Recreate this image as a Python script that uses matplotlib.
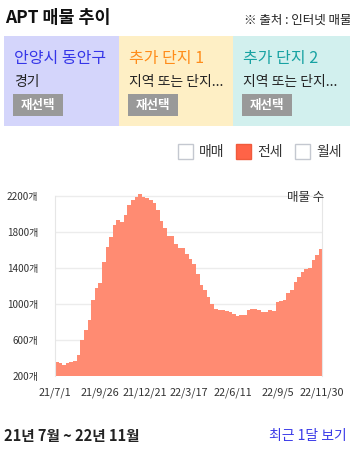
import pandas as pd
import matplotlib
matplotlib.use('Agg')
import matplotlib.pyplot as plt
from matplotlib.patches import Rectangle

# 한글 폰트 설정
plt.rcParams['font.family'] = ['Noto Sans CJK KR', 'DejaVu Sans']
plt.rcParams['axes.unicode_minus'] = False

# 주간 매물 수 (21/7/1 ~ 22/11/24 매주, 마지막은 22/11/30)
listing_counts = [
    353, 340, 323, 340, 355, 370, 430, 600, 715, 820,
    1040, 1180, 1235, 1470, 1630, 1740, 1880, 1930, 1910, 1985,
    2095, 2160, 2185, 2220, 2190, 2177, 2160, 2125, 2040, 1920,
    1840, 1760, 1755, 1670, 1625, 1617, 1560, 1497, 1440, 1330,
    1210, 1160, 1080, 1000, 950, 936, 936, 918, 910, 885,
    870, 877, 880, 936, 945, 948, 929, 910, 914, 936,
    925, 1022, 1037, 1049, 1123, 1161, 1250, 1303, 1360, 1385,
    1400, 1490, 1546, 1610, 1676,
]
dates = list(pd.date_range('2021-07-01', periods=len(listing_counts) - 1, freq='7D')) + [pd.Timestamp('2022-11-30')]

tick_dates = pd.to_datetime(['2021-07-01', '2021-09-26', '2021-12-21', '2022-03-17',
                             '2022-06-11', '2022-09-05', '2022-11-30'])
tick_labels = ['21/7/1', '21/9/26', '21/12/21', '22/3/17', '22/6/11', '22/9/5', '22/11/30']
y_ticks = [200, 600, 1000, 1400, 1800, 2200]

panel_titles = ['안양시 동안구', '추가 단지 1', '추가 단지 2']
panel_subs = ['경기', '지역 또는 단지...', '지역 또는 단지...']
legend_names = ['매매', '전세', '월세']

W, H = 350, 450
fig = plt.figure(figsize=(3.5, 4.5), dpi=100)


def fx(x):
    return x / W


def fy(y):
    return 1 - y / H


# 상단 제목
fig.text(fx(5), fy(18), 'APT 매물 추이', fontsize=12.5, fontweight='bold', va='center', color='#111111')
fig.text(fx(244), fy(20), '※ 출처 : 인터넷 매물', fontsize=9, va='center', color='#222222')

# 선택 패널
panel_x = [4, 119, 233]
panel_w = [115, 114, 117]
panel_bg = ['#d4d5fb', '#feefc5', '#d2f0ee']
title_colors = ['#3535e8', '#ff8c1a', '#17a2a2']
for i in range(3):
    fig.patches.append(Rectangle((fx(panel_x[i]), fy(126)), panel_w[i] / W, 90 / H,
                                 transform=fig.transFigure, facecolor=panel_bg[i],
                                 edgecolor='none', zorder=0))
    fig.text(fx(panel_x[i] + 10), fy(58), panel_titles[i], fontsize=11.5,
             color=title_colors[i], va='center')
    fig.text(fx(panel_x[i] + 10), fy(82), panel_subs[i], fontsize=10, color='#222222', va='center')
    fig.patches.append(Rectangle((fx(panel_x[i] + 9), fy(116)), 50 / W, 22 / H,
                                 transform=fig.transFigure, facecolor='#999999',
                                 edgecolor='none', zorder=1))
    fig.text(fx(panel_x[i] + 34), fy(105), '재선택', fontsize=9, fontweight='bold',
             color='white', ha='center', va='center', zorder=2)

# 범례 (체크박스)
box_x = [178, 236, 295]
for i in range(3):
    checked = legend_names[i] == '전세'
    fig.patches.append(Rectangle((fx(box_x[i]), fy(159)), 15 / W, 15 / H,
                                 transform=fig.transFigure,
                                 facecolor='#ff6347' if checked else 'white',
                                 edgecolor='#f05a3c' if checked else '#c4c8d0', linewidth=1))
    fig.text(fx(box_x[i] + 21), fy(152), legend_names[i], fontsize=10, color='#333333', va='center')

# 차트
ax = fig.add_axes([fx(55), fy(376), (322 - 55) / W, (376 - 190.6) / H])
ax.fill_between(dates, listing_counts, 200, step='post', color='#ff8b72', linewidth=0)
ax.set_xlim(dates[0], dates[-1])
ax.set_ylim(200, 2260)
ax.set_yticks(y_ticks)
ax.set_yticklabels([f'{v}개' for v in y_ticks], fontsize=7.2, color='#333333')
ax.set_xticks(tick_dates)
ax.set_xticklabels(tick_labels, fontsize=7.8, color='#333333')
ax.tick_params(length=0, pad=8)
ax.tick_params(axis='y', pad=12)
ax.grid(axis='y', color='#ececec', linewidth=1)
ax.set_axisbelow(True)
for s in ['top', 'bottom']:
    ax.spines[s].set_visible(False)
for s in ['left', 'right']:
    ax.spines[s].set_color('#e6e6e6')
    ax.spines[s].set_bounds(200, 2200)
ax.text(1.01, 1.0, '매물 수', transform=ax.transAxes, fontsize=9, color='#333333',
        ha='right', va='top')

# 하단
fig.text(fx(4), fy(436), '21년 7월 ~ 22년 11월', fontsize=10.5, fontweight='bold',
         color='#222222', va='center')
fig.text(fx(347), fy(436), '최근 1달 보기', fontsize=10, color='#3a3ae8', ha='right', va='center')

plt.savefig('out.png', dpi=100)
